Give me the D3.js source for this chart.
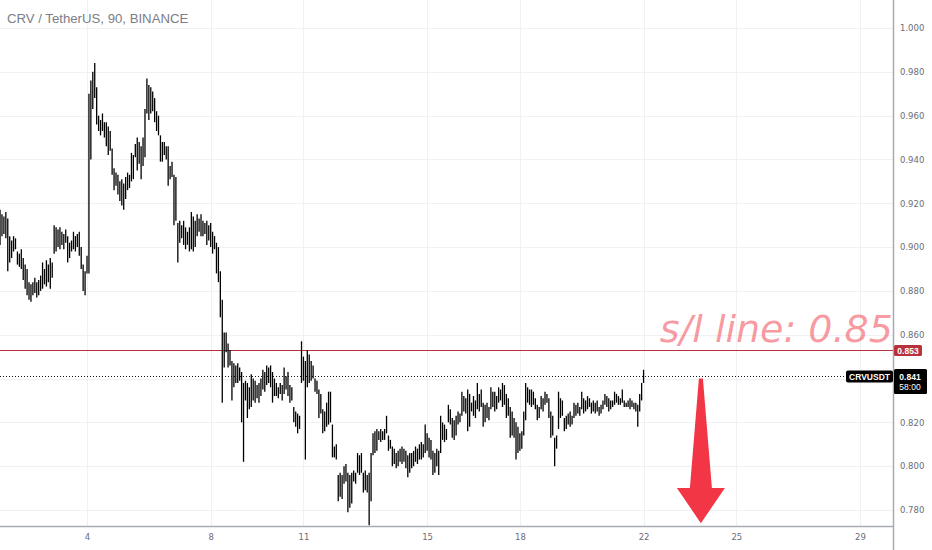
<!DOCTYPE html>
<html>
<head>
<meta charset="utf-8">
<script src="https://cdn.jsdelivr.net/npm/d3@7"></script>
<style>
  html, body { margin: 0; padding: 0; background: #ffffff; }
  svg { display: block; }
</style>
</head>
<body>
<svg id="chart" width="932" height="550"></svg>
<script>
const symbol_title = "CRV / TetherUS, 90, BINANCE";
const symbol_tag = "CRVUSDT";
const bar_start = "2020-12-01T04:30:00Z";
const bar_minutes = 90;

// 90 min bars (high / low)
const bar_high = [
    0.917,0.915,0.914,0.916,0.913,0.905,0.903,0.905,0.904,0.898,
    0.897,0.899,0.895,0.892,0.890,0.884,0.883,0.884,0.886,0.884,
    0.885,0.887,0.893,0.890,0.894,0.892,0.895,0.893,0.910,0.909,
    0.908,0.909,0.907,0.906,0.908,0.905,0.902,0.903,0.907,0.905,
    0.906,0.907,0.900,0.892,0.889,0.896,0.970,0.976,0.980,0.984,
    0.973,0.960,0.958,0.961,0.957,0.957,0.955,0.953,0.945,0.936,
    0.934,0.933,0.930,0.931,0.929,0.932,0.934,0.933,0.943,0.942,
    0.947,0.950,0.948,0.946,0.950,0.963,0.977,0.974,0.973,0.971,
    0.968,0.962,0.960,0.951,0.948,0.948,0.946,0.946,0.937,0.939,
    0.933,0.932,0.911,0.912,0.910,0.912,0.909,0.907,0.909,0.916,
    0.914,0.912,0.915,0.913,0.915,0.912,0.911,0.912,0.910,0.911,
    0.907,0.905,0.902,0.900,0.889,0.876,0.861,0.861,0.856,0.853,
    0.848,0.847,0.846,0.847,0.845,0.843,0.838,0.839,0.838,0.836,
    0.842,0.840,0.839,0.837,0.838,0.840,0.844,0.843,0.846,0.845,
    0.846,0.843,0.840,0.838,0.836,0.838,0.837,0.845,0.841,0.843,
    0.837,0.836,0.827,0.825,0.824,0.823,0.857,0.850,0.848,0.853,
    0.851,0.848,0.846,0.840,0.839,0.835,0.833,0.826,0.825,0.829,
    0.834,0.834,0.819,0.809,0.810,0.796,0.797,0.796,0.800,0.801,
    0.797,0.796,0.797,0.798,0.797,0.806,0.805,0.806,0.797,0.798,
    0.796,0.797,0.806,0.815,0.816,0.817,0.816,0.817,0.816,0.817,
    0.823,0.814,0.812,0.809,0.808,0.806,0.807,0.808,0.809,0.808,
    0.807,0.805,0.806,0.806,0.807,0.809,0.808,0.810,0.811,0.810,
    0.819,0.815,0.813,0.812,0.807,0.806,0.808,0.807,0.823,0.820,
    0.819,0.817,0.828,0.826,0.822,0.821,0.823,0.825,0.824,0.834,
    0.832,0.831,0.835,0.833,0.829,0.832,0.830,0.838,0.833,0.835,
    0.829,0.828,0.829,0.827,0.836,0.834,0.834,0.832,0.836,0.835,
    0.838,0.837,0.833,0.831,0.827,0.825,0.822,0.820,0.818,0.815,
    0.816,0.825,0.838,0.836,0.835,0.835,0.834,0.831,0.828,0.827,
    0.832,0.831,0.834,0.833,0.831,0.825,0.823,0.813,0.814,0.834,
    0.831,0.830,0.822,0.823,0.824,0.825,0.823,0.829,0.828,0.829,
    0.827,0.834,0.831,0.830,0.832,0.831,0.829,0.830,0.829,0.830,
    0.827,0.828,0.830,0.833,0.832,0.831,0.830,0.830,0.834,0.833,
    0.832,0.831,0.835,0.830,0.829,0.830,0.831,0.830,0.829,0.829,
    0.828,0.833,0.838,0.844
];
const bar_low = [
    0.901,0.905,0.906,0.904,0.889,0.893,0.895,0.898,0.899,0.892,
    0.891,0.890,0.885,0.881,0.878,0.876,0.875,0.878,0.879,0.877,
    0.878,0.880,0.881,0.883,0.882,0.884,0.881,0.886,0.897,0.898,
    0.900,0.899,0.901,0.899,0.902,0.893,0.895,0.898,0.899,0.898,
    0.900,0.896,0.890,0.880,0.878,0.888,0.888,0.940,0.963,0.968,
    0.956,0.953,0.951,0.953,0.950,0.946,0.942,0.944,0.933,0.926,
    0.928,0.924,0.921,0.919,0.917,0.922,0.926,0.927,0.930,0.931,
    0.941,0.935,0.938,0.931,0.937,0.941,0.961,0.958,0.961,0.962,
    0.957,0.953,0.951,0.939,0.939,0.942,0.940,0.928,0.931,0.932,
    0.910,0.912,0.893,0.902,0.904,0.901,0.899,0.901,0.898,0.899,
    0.898,0.900,0.905,0.907,0.905,0.905,0.906,0.901,0.903,0.900,
    0.897,0.899,0.888,0.884,0.868,0.829,0.845,0.852,0.845,0.846,
    0.830,0.836,0.838,0.838,0.839,0.820,0.802,0.830,0.822,0.826,
    0.827,0.830,0.829,0.831,0.829,0.832,0.835,0.834,0.837,0.838,
    0.836,0.829,0.832,0.832,0.831,0.833,0.830,0.833,0.835,0.832,
    0.829,0.830,0.820,0.818,0.815,0.817,0.838,0.839,0.803,0.836,
    0.838,0.839,0.840,0.834,0.833,0.822,0.824,0.815,0.816,0.818,
    0.819,0.820,0.804,0.804,0.803,0.784,0.786,0.785,0.792,0.793,
    0.779,0.781,0.783,0.793,0.792,0.797,0.796,0.797,0.788,0.789,
    0.788,0.773,0.784,0.805,0.806,0.807,0.812,0.811,0.812,0.812,
    0.815,0.807,0.808,0.800,0.801,0.799,0.800,0.802,0.801,0.802,
    0.799,0.795,0.797,0.799,0.800,0.802,0.801,0.803,0.803,0.804,
    0.806,0.807,0.804,0.803,0.796,0.797,0.800,0.796,0.806,0.812,
    0.811,0.812,0.820,0.819,0.813,0.812,0.814,0.819,0.820,0.823,
    0.825,0.824,0.816,0.818,0.825,0.823,0.822,0.826,0.825,0.827,
    0.818,0.820,0.822,0.821,0.826,0.827,0.825,0.826,0.829,0.830,
    0.827,0.828,0.822,0.823,0.813,0.814,0.813,0.803,0.806,0.807,
    0.808,0.814,0.821,0.829,0.828,0.827,0.828,0.826,0.821,0.822,
    0.826,0.825,0.828,0.829,0.822,0.813,0.814,0.800,0.808,0.817,
    0.822,0.823,0.816,0.817,0.819,0.818,0.819,0.822,0.823,0.824,
    0.823,0.826,0.824,0.825,0.826,0.827,0.824,0.825,0.824,0.825,
    0.823,0.824,0.826,0.828,0.827,0.825,0.826,0.827,0.828,0.829,
    0.828,0.828,0.829,0.827,0.827,0.827,0.826,0.827,0.826,0.825,
    0.818,0.825,0.830,0.838
];

const last_price = 0.841;
const countdown = "58:00";
const sl_price = 0.853;
const sl_text = "s/l line: 0.85"; // the rest runs under the price scale
const sl_text_time = "2020-12-22T12:30:00Z";
const arrow_time = "2020-12-23T20:30:00Z";
const arrow_prices = [0.840, 0.790, 0.774]; // tail, head base, tip

const price_ticks = [0.78, 0.80, 0.82, 0.84, 0.86, 0.88, 0.90, 0.92, 0.94, 0.96, 0.98, 1.00];
const day_ticks = [4, 8, 11, 15, 18, 22, 25, 29];

Plot();

function Plot() {
    const svg = d3.select('#chart');
    const pane_w = 893, pane_h = 526;
    const grid_color = "#eff1f4";
    const axis_font = "DejaVu Sans, sans-serif";
    const label_font = "Liberation Sans, Arial, sans-serif";

    const x = d3.scaleUtc()
        .domain([new Date(Date.UTC(2020, 11, 4)), new Date(Date.UTC(2020, 11, 29))])
        .range([87, 860]);
    const y = d3.scaleLinear().domain([0.78, 1.0]).range([510, 28]);

    const t0 = new Date(bar_start).getTime();
    const bars = bar_high.map((h, i) => ({
        t: new Date(t0 + i * bar_minutes * 60000),
        high: h,
        low: bar_low[i]
    }));

    svg.append("defs").append("clipPath").attr("id", "pane")
        .append("rect").attr("x", 0).attr("y", 0).attr("width", pane_w).attr("height", pane_h);

    const pane = svg.append("g").attr("clip-path", "url(#pane)");

    // grid
    pane.selectAll("line.hgrid").data(price_ticks).enter().append("line")
        .attr("class", "hgrid")
        .attr("x1", 0).attr("x2", pane_w)
        .attr("y1", d => Math.round(y(d)) + 0.5).attr("y2", d => Math.round(y(d)) + 0.5)
        .attr("stroke", grid_color);
    pane.selectAll("line.vgrid").data(day_ticks).enter().append("line")
        .attr("class", "vgrid")
        .attr("x1", d => Math.round(x(new Date(Date.UTC(2020, 11, d)))) + 0.5)
        .attr("x2", d => Math.round(x(new Date(Date.UTC(2020, 11, d)))) + 0.5)
        .attr("y1", 0).attr("y2", pane_h)
        .attr("stroke", grid_color);

    // s/l line
    const sl_y = Math.round(y(sl_price)) + 0.5;
    pane.append("line")
        .attr("x1", 0).attr("x2", pane_w).attr("y1", sl_y).attr("y2", sl_y)
        .attr("stroke", "#b8323e").attr("stroke-width", 1);

    // last price dotted line
    const lp_y = Math.round(y(last_price)) + 0.5;
    pane.append("line")
        .attr("x1", 0).attr("x2", pane_w).attr("y1", lp_y).attr("y2", lp_y)
        .attr("stroke", "#131722").attr("stroke-width", 1)
        .attr("stroke-dasharray", "1,2");

    // bars
    pane.selectAll("line.bar").data(bars).enter().append("line")
        .attr("class", "bar")
        .attr("x1", d => x(d.t))
        .attr("x2", d => x(d.t))
        .attr("y1", d => y(d.high))
        .attr("y2", d => y(d.low))
        .attr("stroke", "#000000").attr("stroke-width", 1.3);

    // s/l text
    pane.append("text")
        .attr("x", x(new Date(sl_text_time)))
        .attr("y", y(sl_price) - 8)
        .attr("font-family", "DejaVu Sans, sans-serif")
        .attr("font-style", "italic")
        .attr("font-size", 38)
        .attr("fill", "#f23645").attr("fill-opacity", 0.5)
        .text(sl_text);

    // arrow
    const ax = x(new Date(arrow_time));
    const a_top = y(arrow_prices[0]), a_head = y(arrow_prices[1]), a_tip = y(arrow_prices[2]);
    const arrow_pts = [[ax - 2, a_top], [ax + 2, a_top], [ax + 11, a_head], [ax + 24, a_head],
        [ax, a_tip], [ax - 24, a_head], [ax - 11, a_head]];
    pane.append("path")
        .attr("d", d3.line()(arrow_pts) + "Z")
        .attr("fill", "#f23645");

    // title
    svg.append("text")
        .attr("x", 7).attr("y", 23)
        .attr("font-family", label_font)
        .attr("font-size", 13.2)
        .attr("fill", "#7b7e88")
        .text(symbol_title);

    // price axis (0.840 sits under the last price box)
    const y_axis = svg.append("g")
        .attr("transform", "translate(" + pane_w + ",0)")
        .call(d3.axisRight(y).tickValues(price_ticks.filter(d => Math.abs(d - last_price) > 0.005))
            .tickSize(0).tickPadding(7)
            .tickFormat(d3.format(".3f")));
    y_axis.select(".domain").remove();
    y_axis.selectAll("text")
        .attr("font-family", axis_font).attr("font-size", 8.5).attr("fill", "#6a6d78");

    // time axis
    const x_axis = svg.append("g")
        .attr("transform", "translate(0," + pane_h + ")")
        .call(d3.axisBottom(x)
            .tickValues(day_ticks.map(d => new Date(Date.UTC(2020, 11, d))))
            .tickSize(0).tickPadding(8)
            .tickFormat(d => d.getUTCDate()));
    x_axis.select(".domain").remove();
    x_axis.selectAll("text")
        .attr("font-family", axis_font).attr("font-size", 8.5).attr("fill", "#6a6d78");

    // axis borders
    svg.append("line")
        .attr("x1", 0).attr("x2", pane_w).attr("y1", pane_h + 0.5).attr("y2", pane_h + 0.5)
        .attr("stroke", "#a8abb3").attr("stroke-width", 1.5);
    svg.append("line")
        .attr("x1", pane_w + 0.5).attr("x2", pane_w + 0.5).attr("y1", 0).attr("y2", 550)
        .attr("stroke", "#a8abb3").attr("stroke-width", 1.5);

    // s/l price label
    svg.append("rect")
        .attr("x", pane_w + 1).attr("y", sl_y - 5.5).attr("width", 28).attr("height", 11)
        .attr("rx", 1.5).attr("fill", "#b8323e");
    svg.append("text")
        .attr("x", pane_w + 15).attr("y", sl_y + 3)
        .attr("text-anchor", "middle")
        .attr("font-family", label_font).attr("font-size", 8.5).attr("font-weight", "bold")
        .attr("fill", "#ffffff")
        .text(d3.format(".3f")(sl_price));

    // symbol tag and last price label
    svg.append("rect")
        .attr("x", 846).attr("y", lp_y - 6).attr("width", 47).attr("height", 12)
        .attr("rx", 2).attr("fill", "#000000");
    svg.append("text")
        .attr("x", 869.5).attr("y", lp_y + 3.2)
        .attr("text-anchor", "middle")
        .attr("font-family", label_font)
        .attr("font-size", 8.5).attr("font-weight", "bold")
        .attr("fill", "#ffffff")
        .text(symbol_tag);

    svg.append("rect")
        .attr("x", pane_w + 1).attr("y", lp_y - 7.5).attr("width", 33).attr("height", 25)
        .attr("rx", 1.5).attr("fill", "#000000");
    svg.append("text")
        .attr("x", pane_w + 17).attr("y", lp_y + 3.5)
        .attr("text-anchor", "middle")
        .attr("font-family", label_font).attr("font-size", 8.5).attr("font-weight", "bold")
        .attr("fill", "#ffffff")
        .text(d3.format(".3f")(last_price));
    svg.append("text")
        .attr("x", pane_w + 17).attr("y", lp_y + 13.5)
        .attr("text-anchor", "middle")
        .attr("font-family", label_font).attr("font-size", 8.5)
        .attr("fill", "#ffffff")
        .text(countdown);
}
</script>
</body>
</html>
